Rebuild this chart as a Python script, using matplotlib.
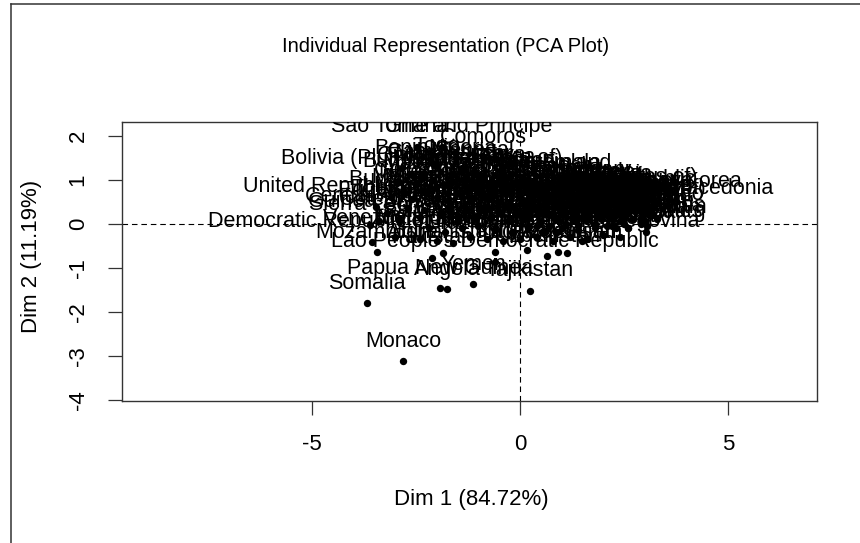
import matplotlib
matplotlib.use("Agg")
import matplotlib.pyplot as plt
from matplotlib.lines import Line2D

plt.rcParams['font.family'] = ['Liberation Sans', 'DejaVu Sans']

# ---- data (individual coordinates on Dim 1 / Dim 2) ----
countries = [
    "Monaco", "Somalia", "Tajikistan", "Yemen", "Angola", "Papua New Guinea", "Sao Tome and Principe", "Ghana", "Comoros", "Benin",
    "Nigeria", "Bolivia (Plurinational State of)", "United Republic of Tanzania", "Democratic Republic of the Congo", "Lao People's Democratic Republic", "Republic of Korea", "The former Yugoslav Republic of Macedonia", "Mozambique", "Pakistan", "Afghanistan",
    "Iraq", "Kyrgyzstan", "Uzbekistan", "Turkmenistan", "Azerbaijan", "Finland", "Gambia", "Senegal", "Togo", "Kenya",
    "Madagascar", "Guinea", "Burundi", "Malawi", "Rwanda", "Zambia", "Zimbabwe", "Uganda", "Ethiopia", "Eritrea",
    "Nepal", "Sudan", "Bangladesh", "Guatemala", "Mali", "Niger", "Burkina Faso", "Cameroon", "Mauritania", "Djibouti",
    "Congo", "Lesotho", "Swaziland", "Gabon", "Namibia", "Botswana", "India", "Bhutan", "Kiribati", "Micronesia (Federated States of)",
    "Honduras", "Nicaragua", "Ecuador", "Paraguay", "El Salvador", "Republic of Moldova", "Armenia", "Georgia", "Turkey", "Thailand",
    "Malaysia", "Bulgaria", "Sierra Leone", "Guinea-Bissau", "Chad", "Central African Republic", "Liberia", "Cote d'Ivoire", "Equatorial Guinea", "Timor-Leste",
    "Cambodia", "Myanmar", "Solomon Islands", "Vanuatu", "Tuvalu", "Nauru", "Marshall Islands", "Indonesia", "Philippines", "South Africa",
    "Guyana", "Peru", "Dominican Republic", "Morocco", "Algeria", "Egypt", "Jordan", "Tunisia", "Iran (Islamic Republic of)", "Lebanon",
    "Saudi Arabia", "Oman", "Qatar", "Kuwait", "Bahrain", "United Arab Emirates", "Germany", "Norway", "Sweden", "Switzerland",
    "Japan", "Netherlands", "Luxembourg", "Australia", "Austria", "Belgium", "Canada", "Cyprus", "Czech Republic", "Denmark",
    "Estonia", "France", "Greece", "Hungary", "Iceland", "Ireland", "Israel", "Italy", "Latvia", "Lithuania",
    "Malta", "New Zealand", "Poland", "Portugal", "Singapore", "Slovakia", "Slovenia", "Spain", "United Kingdom", "Croatia",
    "Andorra", "San Marino", "Brunei Darussalam", "United States of America", "Haiti", "Mongolia", "Sri Lanka", "Viet Nam", "China", "Brazil",
    "Cuba", "Mexico", "Colombia", "Venezuela (Bolivarian Republic of)", "Suriname", "Belize", "Jamaica", "Trinidad and Tobago", "Panama", "Costa Rica",
    "Chile", "Argentina", "Uruguay", "Kazakhstan", "Russian Federation", "Ukraine", "Belarus", "Romania", "Serbia", "Albania",
    "Montenegro", "Bosnia and Herzegovina", "Libya", "Syrian Arab Republic", "Mauritius", "Cape Verde", "Fiji", "Samoa", "Tonga", "Maldives",
    "Barbados", "Bahamas", "Saint Lucia", "Grenada", "Dominica", "Antigua and Barbuda", "Saint Kitts and Nevis", "Saint Vincent and the Grenadines", "Seychelles", "Palau",
    "Cook Islands", "Niue",
]

dim1 = [
    -2.81, -3.68, 0.24, -1.13, -1.75, -1.92, -1.88, -2.48, -0.89, -2.84,
    -1.39, -2.36, -3.46, -3.56, -0.60, 3.27, 1.01, -3.44, -2.12, -1.85,
    -0.60, 0.17, 0.65, 0.91, 1.13, 1.35, -2.30, -1.10, -2.00, -0.60,
    -1.60, -2.60, -2.90, -2.50, -2.10, -1.70, -1.30, -1.00, -0.70, -0.40,
    -0.20, 0.10, 0.40, 0.70, -3.10, -2.80, -2.60, -2.30, -2.00, -1.70,
    -1.50, -1.20, -1.00, -0.80, -0.50, -0.30, 0.00, 0.20, 0.30, 0.50,
    0.80, 1.00, 1.20, 1.40, 1.60, 1.80, 2.00, 2.20, 1.90, 2.60,
    2.80, 1.90, -3.60, -3.40, -3.20, -2.40, -2.70, -2.90, -2.30, -1.90,
    -1.70, -1.50, -1.30, -1.10, -0.90, -0.70, -0.50, -0.30, -0.10, 0.10,
    0.30, 0.50, 0.70, 0.90, 1.10, 1.30, 1.50, 1.90, 1.60, 2.10,
    2.30, 2.50, 2.70, 2.90, 3.10, 1.70, 2.60, 3.00, 3.20, 2.80,
    3.30, 3.05, 3.03, 2.00, 2.30, 2.50, 2.10, 2.50, 2.40, 2.70,
    2.00, 2.40, 2.80, 1.70, 2.10, 2.40, 2.30, 2.90, 1.80, 2.10,
    2.50, 1.90, 2.30, 2.10, 3.00, 2.20, 2.30, 2.60, 2.20, 2.20,
    2.90, 3.10, 2.30, 0.90, -3.00, -2.40, -2.20, -2.00, -1.80, -1.60,
    -1.40, -1.20, -1.00, -0.80, -0.60, -0.40, -0.20, 0.00, 0.20, 0.40,
    0.60, 0.80, 1.00, 1.20, 1.40, 1.60, 1.80, 2.00, 2.20, 2.40,
    2.60, 1.50, 1.10, 0.00, 1.50, 0.90, 0.40, 0.60, 1.20, 1.60,
    1.30, 1.80, 0.50, 0.70, 1.00, 1.40, 0.20, 0.53, 1.70, -0.30,
    0.10, 0.80,
]

dim2 = [
    -3.13, -1.81, -1.53, -1.38, -1.49, -1.47, 1.74, 1.74, 1.51, 1.26,
    1.26, 1.03, 0.38, -0.42, -0.87, 0.49, 0.35, -0.65, -0.78, -0.67,
    -0.65, -0.60, -0.74, -0.65, -0.67, 0.92, 1.15, 1.20, 1.30, 1.10,
    1.12, 1.10, 0.95, 0.90, 1.00, 0.85, 1.00, 0.90, 0.95, 1.05,
    0.85, 0.95, 0.85, 0.90, 0.60, 0.70, 0.55, 0.75, 0.60, 0.50,
    0.70, 0.55, 0.75, 0.60, 0.50, 0.75, 0.60, 0.50, 0.75, 0.60,
    0.70, 0.50, 0.75, 0.55, 0.70, 0.50, 0.65, 0.50, 0.70, 0.40,
    0.35, 0.60, -0.03, 0.05, 0.25, 0.15, 0.35, 0.10, 0.30, 0.20,
    0.40, 0.05, 0.30, 0.10, 0.35, 0.15, 0.25, 0.05, 0.30, 0.10,
    0.35, 0.05, 0.20, 0.10, 0.25, 0.05, 0.30, 0.15, 0.35, 0.20,
    0.40, 0.15, 0.30, 0.10, 0.35, 0.40, 0.30, 0.25, 0.20, 0.40,
    0.10, -0.05, -0.19, 0.30, 0.20, 0.00, 0.50, 0.25, 0.55, 0.10,
    0.45, 0.05, 0.30, 0.75, 0.60, 0.45, 0.35, 0.00, 0.50, 0.25,
    0.35, 0.15, 0.55, -0.05, 0.05, 0.65, 0.50, -0.10, 0.10, 0.45,
    0.30, 0.20, -0.10, -0.20, -0.30, -0.35, -0.10, -0.40, -0.20, -0.45,
    -0.10, -0.30, -0.05, -0.35, -0.15, -0.40, -0.20, -0.35, -0.10, -0.30,
    -0.20, -0.40, -0.10, -0.30, -0.15, -0.35, -0.10, -0.25, -0.05, -0.30,
    -0.10, -0.40, 0.00, 0.20, 0.15, 0.40, -0.05, 0.55, 0.45, 0.10,
    0.20, 0.00, 0.25, -0.05, 0.30, -0.05, 0.45, -0.19, 0.30, 0.40,
    0.45, 0.25,
]

xticks = [-5, 0, 5]
yticks = [-4, -3, -2, -1, 0, 1, 2]
title = "Individual Representation (PCA Plot)"
xlabel = "Dim 1 (84.72%)"
ylabel = "Dim 2 (11.19%)"

# ---- figure ----
W, H = 860, 543
fig = plt.figure(figsize=(W / 100, H / 100), dpi=100)
fig.patch.set_facecolor('white')

L, R, T, B = 122, 817, 122, 401
ax = fig.add_axes([L / W, 1 - B / H, (R - L) / W, (B - T) / H])
ax.set_xlim(-9.57, 7.14)
ax.set_ylim(-4.03, 2.31)

for s in ax.spines.values():
    s.set_color('#333333')
    s.set_linewidth(1.0)

ax.axhline(0, color='black', lw=0.8, ls=(0, (5, 3.5)), zorder=1)
ax.axvline(0, color='black', lw=0.8, ls=(0, (5, 3.5)), zorder=1)

ax.plot(dim1, dim2, 'o', color='black', ms=5.3, mec='black', mew=0, zorder=2)

for name, x, y in zip(countries, dim1, dim2):
    t = ax.annotate(name, (x, y), xytext=(0, 14.5), textcoords='offset points',
                    ha='center', va='center', fontsize=15.5, color='black', zorder=3)
    t.set_clip_on(True)
    t.set_clip_path(ax.patch)

ax.set_xticks(xticks)
ax.set_xticklabels([str(v) for v in xticks], fontsize=16)
ax.set_yticks(yticks)
ax.set_yticklabels([str(v) for v in yticks], fontsize=16, rotation=90, va='center')
ax.tick_params(axis='both', length=10, width=0.9, color='#333333', direction='out')
ax.tick_params(axis='x', pad=14)
ax.tick_params(axis='y', pad=14)
ax.tick_params(top=False, right=False)

fig.text(446 / W, 1 - 47 / H, title, ha='center', va='center', fontsize=14.5)
fig.text(471 / W, 1 - 500 / H, xlabel, ha='center', va='center', fontsize=16)
fig.text(31 / W, 1 - 256 / H, ylabel, ha='center', va='center', fontsize=16, rotation=90)

# outer frame (left and top border lines)
fig.add_artist(Line2D([11 / W, 11 / W], [0, 1 - 4 / H], transform=fig.transFigure, color='#333333', lw=1.1))
fig.add_artist(Line2D([11 / W, 1], [1 - 4 / H, 1 - 4 / H], transform=fig.transFigure, color='#333333', lw=1.1))

fig.savefig('out.png', dpi=100)
